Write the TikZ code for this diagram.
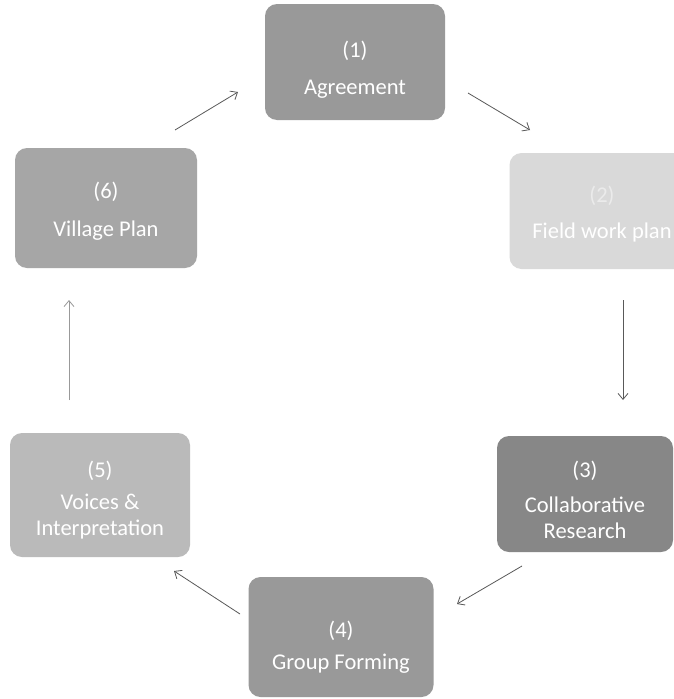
\documentclass[tikz,border=0pt]{standalone}
\usepackage{fontspec}
\setmainfont{Carlito}
\usetikzlibrary{arrows.meta}
\newcommand{\boxlines}[2][0pt]{\raisebox{0pt}[\dimexpr\height+#1\relax][\depth]{\begin{tabular}{@{}c@{}}#2\end{tabular}}}
\begin{document}
\begin{tikzpicture}[x=1pt,y=-1pt,
  box/.style={rounded corners=12pt, draw=none, text=white, align=center,
    minimum width=180pt, minimum height=116pt, inner sep=0pt,
    font=\fontsize{22.5}{26}\selectfont},
  link/.style={draw=black!65, line width=0.8pt,
    -{Straight Barb[length=6pt,width=10pt]}}]
\clip (0,0) rectangle (674,699);
\fill[white] (0,0) rectangle (674,699);
\node[box, fill=black!40] (n1) at (355,62) {\boxlines[18pt]{(1)\\[11pt]Agreement}};
\node[box, fill=black!15, minimum width=185pt] (n2) at (602,211) {\boxlines[8pt]{{\color{black!8}(2)}\\[10pt]Field work plan}};
\node[box, fill=black!47, minimum width=176pt, minimum height=116pt] (n3) at (585,494) {\boxlines[18pt]{(3)\\[9pt]Collaborative\\Research}};
\node[box, fill=black!40, minimum width=185pt, minimum height=120pt] (n4) at (341,637) {\boxlines[22pt]{(4)\\[6pt]Group Forming}};
\node[box, fill=black!27, minimum height=124pt] (n5) at (100,495) {\boxlines[12pt]{(5)\\[6pt]Voices \&\\Interpretation}};
\node[box, fill=black!35, minimum width=182pt, minimum height=120pt] (n6) at (106,208) {\boxlines[8pt]{(6)\\[12pt]Village Plan}};
\coordinate (a12s) at (468,93);  \coordinate (a12e) at (530,130);
\coordinate (a23s) at (623,300); \coordinate (a23e) at (623,400);
\coordinate (a34s) at (522,566); \coordinate (a34e) at (457,604);
\coordinate (a45s) at (240,614); \coordinate (a45e) at (174,571);
\coordinate (a56s) at (69,400);  \coordinate (a56e) at (69,300);
\coordinate (a61s) at (175,130); \coordinate (a61e) at (238,92);
\draw[link] (a12s) -- (a12e);
\draw[link] (a23s) -- (a23e);
\draw[link] (a34s) -- (a34e);
\draw[link] (a45s) -- (a45e);
\draw[link, draw=black!40] (a56s) -- (a56e);
\draw[link] (a61s) -- (a61e);
\end{tikzpicture}
\end{document}
